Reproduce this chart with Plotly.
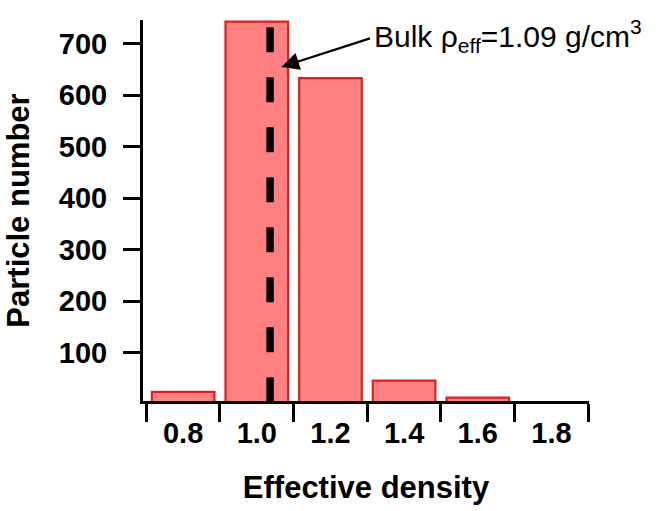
import plotly.graph_objects as go

# ---- data ----
density_bins = [0.8, 1.0, 1.2, 1.4, 1.6, 1.8]
particle_counts = [24, 743, 633, 46, 13, 0]
bin_edges = [0.7, 0.9, 1.1, 1.3, 1.5, 1.7, 1.9]
bin_labels = ["0.8", "1.0", "1.2", "1.4", "1.6", "1.8"]
y_ticks = [100, 200, 300, 400, 500, 600, 700]
bulk_line_x = [1.036, 1.036]
bulk_line_y = [732, 0]
arrow_head = (1.067, 655)
label_anchor = (1.313, 714)

FONT = "Liberation Sans, Arial, sans-serif"
X_RANGE = [0.691, 1.902]
Y_RANGE = [6.4, 746]

fig = go.Figure()
fig.add_trace(go.Bar(
    x=density_bins, y=particle_counts, width=0.17,
    marker=dict(color="#FF8080", line=dict(color="#DC2020", width=2.2)),
    showlegend=False,
))
fig.add_trace(go.Scatter(
    x=bulk_line_x, y=bulk_line_y, mode="lines",
    line=dict(color="black", width=7.5, dash="25px,25px"),
    showlegend=False, cliponaxis=False,
))
# invisible trace to activate second x-axis (labels)
fig.add_trace(go.Scatter(x=[density_bins[0]], y=[particle_counts[0]], xaxis="x2",
                         mode="markers", marker=dict(opacity=0), showlegend=False,
                         hoverinfo="skip"))

fig.update_layout(
    width=663, height=511,
    margin=dict(l=143, r=74, t=20, b=110),
    plot_bgcolor="white", paper_bgcolor="white",
    font=dict(family=FONT, color="black"),
    xaxis=dict(
        range=X_RANGE, tickmode="array", tickvals=bin_edges,
        ticktext=[""] * len(bin_edges),
        ticks="outside", ticklen=18, tickwidth=3, tickcolor="black",
        showline=True, linewidth=3, linecolor="black",
        showgrid=False, zeroline=False,
    ),
    xaxis2=dict(
        range=X_RANGE, overlaying="x", side="bottom", anchor="y",
        tickmode="array", tickvals=density_bins, ticktext=bin_labels,
        ticks="", showline=False, showgrid=False, zeroline=False,
        tickfont=dict(size=29, weight="bold", family=FONT),
        ticklabelstandoff=12,
        title=dict(text="Effective density", font=dict(size=31, weight="bold", family=FONT),
                   standoff=28),
    ),
    yaxis=dict(
        range=Y_RANGE, tickmode="array", tickvals=y_ticks,
        ticks="outside", ticklen=17, tickwidth=3, tickcolor="black",
        showline=True, linewidth=3, linecolor="black",
        showgrid=False, zeroline=False,
        tickfont=dict(size=29, weight="bold", family=FONT),
        ticklabelstandoff=10,
        title=dict(text="Particle number", font=dict(size=31, weight="bold", family=FONT),
                   standoff=20),
    ),
    bargap=0.13,
)

fig.add_annotation(
    x=arrow_head[0], y=arrow_head[1], xref="x", yref="y",
    text="", showarrow=True, ax=90, ay=-29, axref="pixel", ayref="pixel",
    arrowhead=2, arrowsize=1.6, arrowwidth=2.2, arrowcolor="black",
)
fig.add_annotation(
    x=label_anchor[0], y=label_anchor[1], xref="x", yref="y",
    text="Bulk ρ<sub>eff</sub>=1.09 g/cm<sup>3</sup>", showarrow=False,
    xanchor="left", yanchor="middle",
    font=dict(size=30, family=FONT, color="black"),
)

fig.write_html("out.html")
